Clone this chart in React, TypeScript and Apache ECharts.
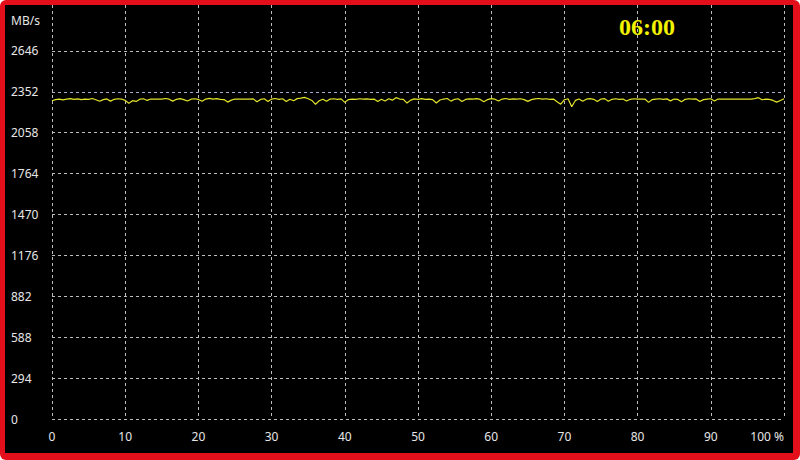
import React, { useEffect, useRef } from "react";
import * as echarts from "echarts";

// Throughput samples every 0.5 % of the test (0 … 100 %), MB/s
const throughput: number[] = [
  2288, 2296, 2300, 2294, 2299, 2303, 2297, 2301, 2296, 2300,
  2298, 2304, 2295, 2284, 2296, 2301, 2285, 2298, 2302, 2300,
  2290, 2270, 2288, 2283, 2299, 2302, 2290, 2300, 2300, 2300,
  2300, 2304, 2299, 2285, 2298, 2303, 2296, 2286, 2299, 2302,
  2297, 2284, 2300, 2305, 2299, 2303, 2298, 2296, 2278, 2292,
  2300, 2300, 2300, 2300, 2299, 2301, 2280, 2297, 2302, 2282,
  2300, 2304, 2298, 2302, 2283, 2299, 2288, 2303, 2306, 2312,
  2302, 2290, 2262, 2288, 2299, 2284, 2300, 2302, 2298, 2301,
  2276, 2296, 2300, 2298, 2302, 2299, 2301, 2297, 2300, 2283,
  2298, 2286, 2302, 2292, 2310, 2300, 2298, 2271, 2292, 2301,
  2298, 2303, 2297, 2300, 2296, 2272, 2293, 2300, 2304, 2285,
  2298, 2302, 2283, 2297, 2301, 2299, 2303, 2297, 2280, 2296,
  2303, 2299, 2286, 2300, 2304, 2298, 2301, 2300, 2302, 2296,
  2283, 2296, 2301, 2304, 2299, 2302, 2298, 2300, 2280, 2263,
  2295, 2302, 2245, 2290, 2300, 2284, 2299, 2303, 2298, 2283,
  2300, 2303, 2284, 2298, 2302, 2297, 2300, 2286, 2298, 2302,
  2300, 2299, 2300, 2276, 2296, 2300, 2302, 2298, 2301, 2287,
  2300, 2297, 2280, 2298, 2302, 2299, 2301, 2282, 2296, 2300,
  2302, 2286, 2300, 2300, 2300, 2300, 2300, 2300, 2300, 2300,
  2300, 2299, 2303, 2310, 2295, 2300, 2298, 2290, 2278, 2290,
  2302,
];
const sampleStep = 0.5; // % per sample

const yTickValues: number[] = [0, 294, 588, 882, 1176, 1470, 1764, 2058, 2352, 2646];
const yInterval = 294;
const yMax = 2976;
const xTickValues: number[] = [0, 10, 20, 30, 40, 50, 60, 70, 80, 90, 100];
const unitLabel = "MB/s";
const timeLabel = "06:00";

export default function App() {
  const ref = useRef<HTMLDivElement>(null);

  useEffect(() => {
    if (!ref.current) return;
    const chart = echarts.init(ref.current, undefined, { renderer: "svg" });
    const seriesData = throughput.map((v, i) => [i * sampleStep, v]);
    const gray = "#bdbdbd";
    const ySplitColors = yTickValues.map((v) => (v === 2352 ? "#a3aad6" : gray));
    ySplitColors.push("rgba(0,0,0,0)", "rgba(0,0,0,0)");
    const font = "'Noto Sans', sans-serif";

    chart.setOption({
      animation: false,
      backgroundColor: "#000000",
      grid: { left: 47, right: 9, top: 0, bottom: 34, containLabel: false },
      xAxis: {
        type: "value",
        min: 0,
        max: 100,
        interval: 10,
        axisLine: { show: false },
        axisTick: { show: false },
        axisLabel: {
          color: "#e6e6e6",
          fontSize: 12,
          fontFamily: font,
          margin: 11,
          alignMaxLabel: "right",
          formatter: (v: number) =>
            xTickValues.includes(v) ? (v === 100 ? "100 %" : String(v)) : "",
        },
        splitLine: {
          show: true,
          lineStyle: { color: gray, type: [3, 3], width: 1 },
        },
      },
      yAxis: {
        type: "value",
        min: 0,
        max: yMax,
        interval: yInterval,
        axisLine: { show: false },
        axisTick: { show: false },
        axisLabel: {
          color: "#e6e6e6",
          fontSize: 12,
          fontFamily: font,
          align: "left",
          margin: 41,
          formatter: (v: number) => (yTickValues.includes(v) ? String(v) : ""),
        },
        splitLine: {
          show: true,
          showMaxLine: false,
          lineStyle: { color: ySplitColors, type: [3, 3], width: 1 },
        },
      },
      graphic: [
        {
          type: "text",
          left: 6,
          top: 9,
          style: { text: unitLabel, fill: "#e6e6e6", font: `12px ${font}` },
        },
        {
          type: "text",
          x: 642,
          y: 22,
          style: {
            text: timeLabel,
            fill: "#f2f200",
            font: "bold 24px 'Liberation Serif', serif",
            textAlign: "center",
            textVerticalAlign: "middle",
          },
        },
      ],
      series: [
        {
          type: "line",
          data: seriesData,
          showSymbol: false,
          symbol: "none",
          lineStyle: { color: "#e4e42c", width: 1.2 },
          z: 3,
        },
      ],
    });
    return () => chart.dispose();
  }, []);

  return (
    <div
      style={{
        position: "absolute",
        left: 0,
        top: 0,
        width: 800,
        height: 460,
        background: "#e3101c",
        borderRadius: 6,
      }}
    >
      <div
        ref={ref}
        style={{
          position: "absolute",
          left: 5,
          top: 5,
          width: 788,
          height: 448,
          background: "#000",
        }}
      />
    </div>
  );
}
